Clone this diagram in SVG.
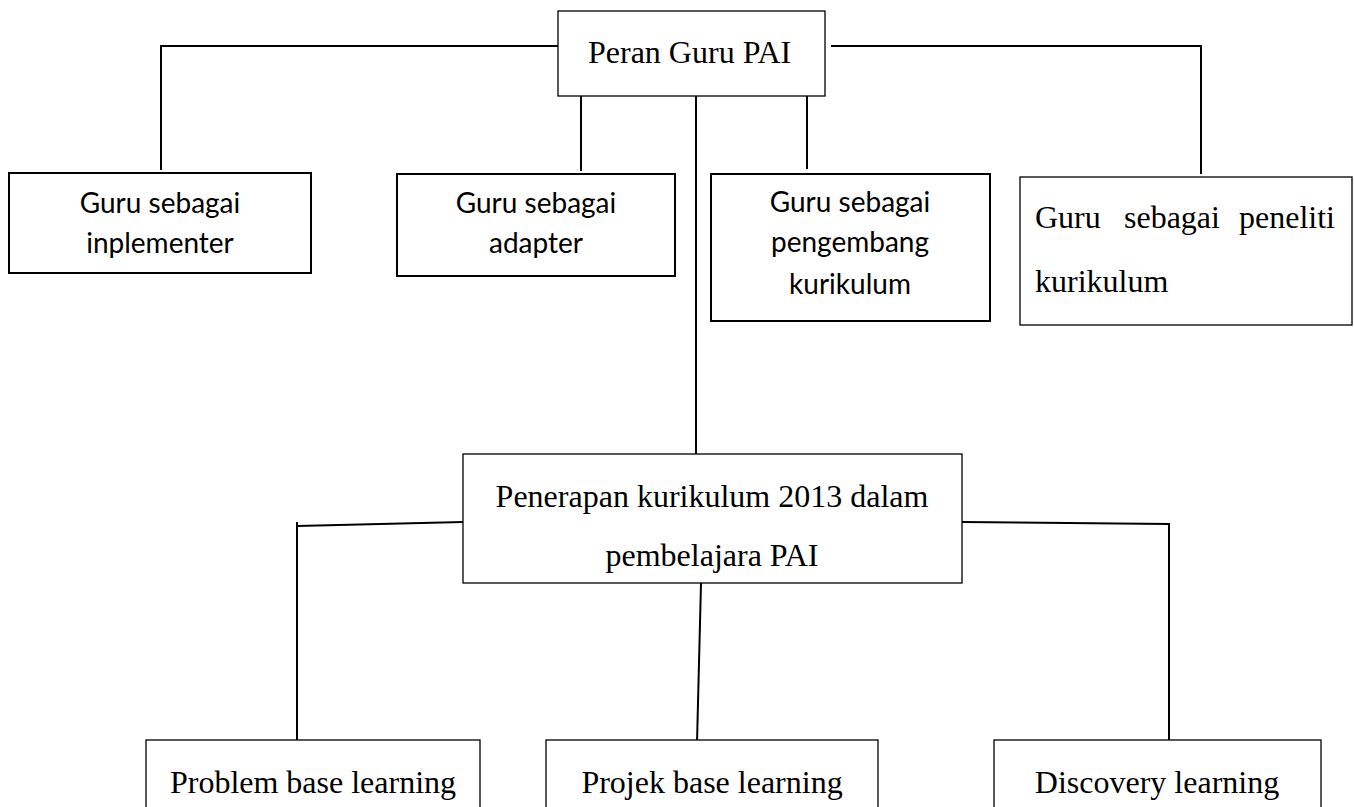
<svg xmlns="http://www.w3.org/2000/svg" width="1354" height="807" viewBox="0 0 1354 807">
<style>
.bx{fill:#fff;stroke:#000;stroke-width:1.3}
.bxc{fill:#fff;stroke:#000;stroke-width:2}
.t{font-family:"Liberation Serif","Times New Roman",serif;font-size:32px;fill:#000}
.c{font-family:Lato,"Carlito","Liberation Sans",sans-serif;font-size:28px;fill:#000;text-anchor:middle}
.m{text-anchor:middle}
.ln{fill:none;stroke:#000;stroke-width:2}
</style>
<rect width="1354" height="807" fill="#fff"/>
<g id="connectors">
<polyline class="ln" points="558,46 161,46 161,170"/>
<line class="ln" x1="581" y1="92" x2="581" y2="171"/>
<line class="ln" x1="696" y1="96" x2="696" y2="458"/>
<line class="ln" x1="807" y1="92" x2="807" y2="169"/>
<polyline class="ln" points="831,46 1201,46 1201,174"/>
<polyline class="ln" points="463,522 297,526"/>
<line class="ln" x1="297" y1="522" x2="297" y2="742"/>
<line class="ln" x1="701" y1="583" x2="697" y2="743"/>
<polyline class="ln" points="962,522 1169,524 1169,743"/>
</g>
<g id="peran">
<rect class="bx" x="558" y="11" width="267" height="85"/>
<text class="t" x="588" y="63">Peran Guru PAI</text>
</g>
<g id="inplementer">
<rect class="bxc" x="9" y="173" width="302" height="100"/>
<text class="c" x="160" y="213">Guru sebagai</text>
<text class="c" x="160" y="253">inplementer</text>
</g>
<g id="adapter">
<rect class="bxc" x="397" y="174" width="278" height="102"/>
<text class="c" x="536" y="213">Guru sebagai</text>
<text class="c" x="536" y="253">adapter</text>
</g>
<g id="pengembang">
<rect class="bxc" x="711" y="174" width="279" height="147"/>
<text class="c" x="850" y="212">Guru sebagai</text>
<text class="c" x="850" y="252">pengembang</text>
<text class="c" x="850" y="294">kurikulum</text>
</g>
<g id="peneliti">
<rect class="bx" x="1020" y="177" width="332" height="148"/>
<text class="t" y="228"><tspan x="1035">Guru</tspan><tspan x="1124">sebagai</tspan><tspan x="1239">peneliti</tspan></text>
<text class="t" x="1035" y="292">kurikulum</text>
</g>
<g id="penerapan">
<rect class="bx" x="463" y="454" width="499" height="129"/>
<text class="t m" x="712" y="507">Penerapan kurikulum 2013 dalam</text>
<text class="t m" x="712" y="566">pembelajara PAI</text>
</g>
<g id="problem">
<rect class="bx" x="146" y="740" width="334" height="80"/>
<text class="t m" x="313" y="793">Problem base learning</text>
</g>
<g id="projek">
<rect class="bx" x="546" y="740" width="332" height="80"/>
<text class="t m" x="712" y="793">Projek base learning</text>
</g>
<g id="discovery">
<rect class="bx" x="994" y="740" width="327" height="80"/>
<text class="t m" x="1157" y="793">Discovery learning</text>
</g>
</svg>
